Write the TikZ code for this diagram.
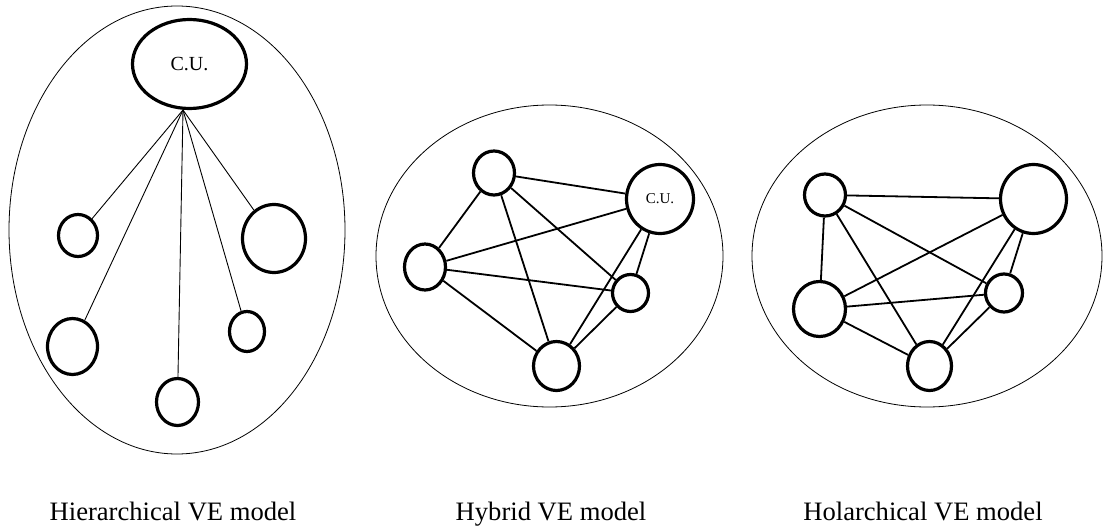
\documentclass[tikz,border=0pt]{standalone}
\usepackage{fontspec}
\setmainfont{Liberation Serif}
\usetikzlibrary{shapes.geometric}
\tikzset{
  unit/.style={draw, ellipse, line width=3.2pt, inner sep=0pt, fill=white},
  frame/.style={draw, line width=0.8pt},
  thinlink/.style={draw, line width=0.9pt},
  link/.style={draw, line width=1.8pt},
  caption/.style={anchor=base, inner sep=0pt, font=\fontsize{26.6}{30}\selectfont},
}
\begin{document}
\begin{tikzpicture}[x=1pt,y=-1pt]
\useasboundingbox (0,0) rectangle (1103,527);
% ---------- Hierarchical ----------
\draw[frame] (177,230) ellipse [x radius=168pt, y radius=224pt];
\node[unit, minimum width=114pt, minimum height=89pt, font=\fontsize{20}{22}\selectfont] (cu1) at (189.5,64) {C.U.};
\coordinate (hub) at (183,110);
\node[unit, minimum width=39pt, minimum height=42pt] (a1) at (78,235.5) {};
\node[unit, minimum width=63pt, minimum height=68pt] (b1) at (274,238.5) {};
\node[unit, minimum width=50pt, minimum height=56pt] (c1) at (72.5,346.5) {};
\node[unit, minimum width=35pt, minimum height=40pt] (d1) at (247,331.5) {};
\node[unit, minimum width=42pt, minimum height=47pt] (e1) at (177.5,402) {};
\foreach \n in {a1,b1,c1,d1,e1} \draw[thinlink] (hub) -- (\n);
\node[caption] (cap1) at (173,520) {Hierarchical VE model};
% ---------- Hybrid ----------
\draw[frame] (549.5,256) ellipse [x radius=173.5pt, y radius=151pt];
\node[unit, minimum width=41pt, minimum height=44pt] (t2) at (494,173) {};
\node[unit, minimum width=67pt, minimum height=69pt, font=\fontsize{15}{17}\selectfont] (cu2) at (660,199) {C.U.};
\node[unit, minimum width=41pt, minimum height=46pt] (l2) at (425,267) {};
\node[unit, minimum width=36pt, minimum height=37pt] (r2) at (630.5,293) {};
\node[unit, minimum width=46pt, minimum height=49pt] (b2) at (556.5,366) {};
\foreach \p/\q in {t2/cu2,t2/l2,t2/b2,t2/r2,cu2/l2,cu2/b2,cu2/r2,l2/r2,l2/b2,r2/b2}
  \draw[link] (\p) -- (\q);
\node[caption] (cap2) at (551,520) {Hybrid VE model};
% ---------- Holarchical ----------
\draw[frame] (927,256) ellipse [x radius=175pt, y radius=151pt];
\node[unit, minimum width=41pt, minimum height=42pt] (t3) at (825,195) {};
\node[unit, minimum width=66pt, minimum height=69pt] (tr3) at (1033.5,199) {};
\node[unit, minimum width=52pt, minimum height=55pt] (l3) at (819.5,309) {};
\node[unit, minimum width=37pt, minimum height=38pt] (r3) at (1004,293) {};
\node[unit, minimum width=44pt, minimum height=49pt] (b3) at (929.5,366) {};
\foreach \p/\q in {t3/tr3,t3/l3,t3/b3,t3/r3,tr3/l3,tr3/b3,tr3/r3,l3/r3,l3/b3,r3/b3}
  \draw[link] (\p) -- (\q);
\node[caption] (cap3) at (923,520) {Holarchical VE model};
\end{tikzpicture}
\end{document}
